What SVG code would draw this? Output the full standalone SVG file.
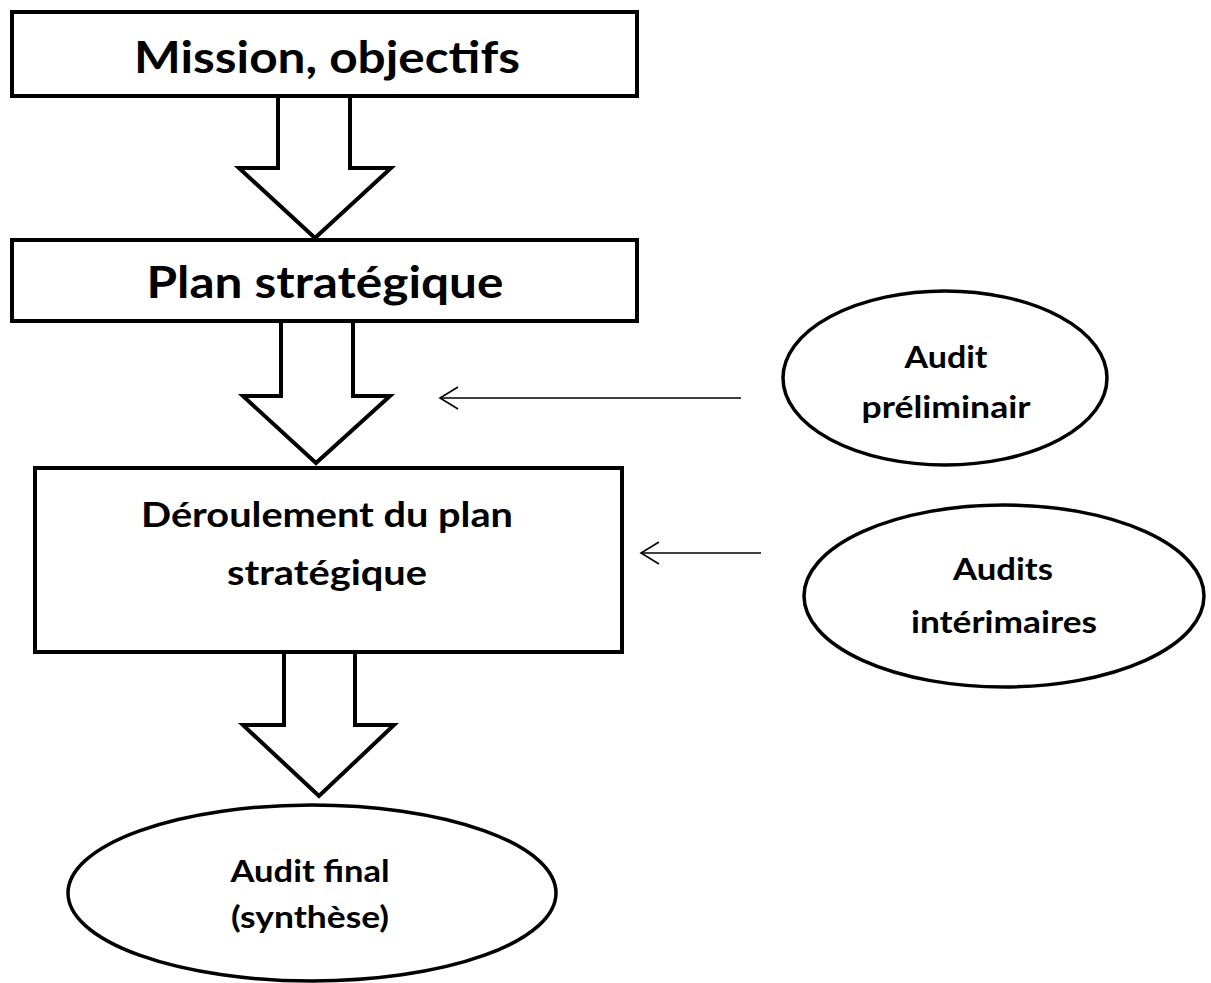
<svg xmlns="http://www.w3.org/2000/svg" width="1211" height="983" viewBox="0 0 1211 983">
<defs>
<style>
.box{fill:#fff;stroke:#000;stroke-width:4}
.ell{fill:#fff;stroke:#000;stroke-width:3.5}
.big{fill:#fff;stroke:#000;stroke-width:4;stroke-linejoin:miter}
.thin{stroke:#000;stroke-width:1.6;fill:none}
text{font-family:Lato,"Open Sans",sans-serif;font-weight:bold;fill:#000;text-anchor:middle}
.t1{font-size:43px}
.t2{font-size:35px}
.t3{font-size:30px}
</style>
<marker id="open" markerWidth="22" markerHeight="26" refX="19" refY="12" orient="auto" markerUnits="userSpaceOnUse">
<path d="M1,1 L19,12 L1,23" fill="none" stroke="#000" stroke-width="1.6"/>
</marker>
</defs>
<rect width="1211" height="983" fill="#fff"/>
<g id="connectors">
<polygon class="big" points="278,96 278,168 239,168 315,238 391,168 350,168 350,96"/>
<polygon class="big" points="281,321 281,396 243,396 316,463 390,396 353,396 353,321"/>
<polygon class="big" points="284,652 284,725 243,725 319,796 394,725 355,725 355,652"/>
<line class="thin" x1="741" y1="398" x2="440" y2="398" marker-end="url(#open)"/>
<line class="thin" x1="761" y1="553" x2="641" y2="553" marker-end="url(#open)"/>
</g>
<g id="mission">
<rect class="box" x="12" y="12" width="625" height="84"/>
<text class="t1" x="327" y="73" textLength="386" lengthAdjust="spacingAndGlyphs">Mission, objectifs</text>
</g>
<g id="plan">
<rect class="box" x="12" y="240" width="625" height="81"/>
<text class="t1" x="325" y="298" textLength="357" lengthAdjust="spacingAndGlyphs">Plan stratégique</text>
</g>
<g id="deroulement">
<rect class="box" x="35" y="468" width="587" height="184"/>
<text class="t2" x="327" y="527" textLength="372" lengthAdjust="spacingAndGlyphs">Déroulement du plan</text>
<text class="t2" x="327" y="585" textLength="200" lengthAdjust="spacingAndGlyphs">stratégique</text>
</g>
<g id="audit-preliminaire">
<ellipse class="ell" cx="945" cy="378" rx="162" ry="87"/>
<text class="t3" x="946" y="368" textLength="83" lengthAdjust="spacingAndGlyphs">Audit</text>
<text class="t3" x="946" y="418" textLength="169" lengthAdjust="spacingAndGlyphs">préliminair</text>
</g>
<g id="audits-interimaires">
<ellipse class="ell" cx="1004" cy="596" rx="200" ry="91"/>
<text class="t3" x="1003" y="580" textLength="100" lengthAdjust="spacingAndGlyphs">Audits</text>
<text class="t3" x="1004" y="633" textLength="186" lengthAdjust="spacingAndGlyphs">intérimaires</text>
</g>
<g id="audit-final">
<ellipse class="ell" cx="312" cy="893" rx="244" ry="88"/>
<text class="t3" x="310" y="882" textLength="159" lengthAdjust="spacingAndGlyphs">Audit final</text>
<text class="t3" x="310" y="928" textLength="158" lengthAdjust="spacingAndGlyphs">(synthèse)</text>
</g>
</svg>
